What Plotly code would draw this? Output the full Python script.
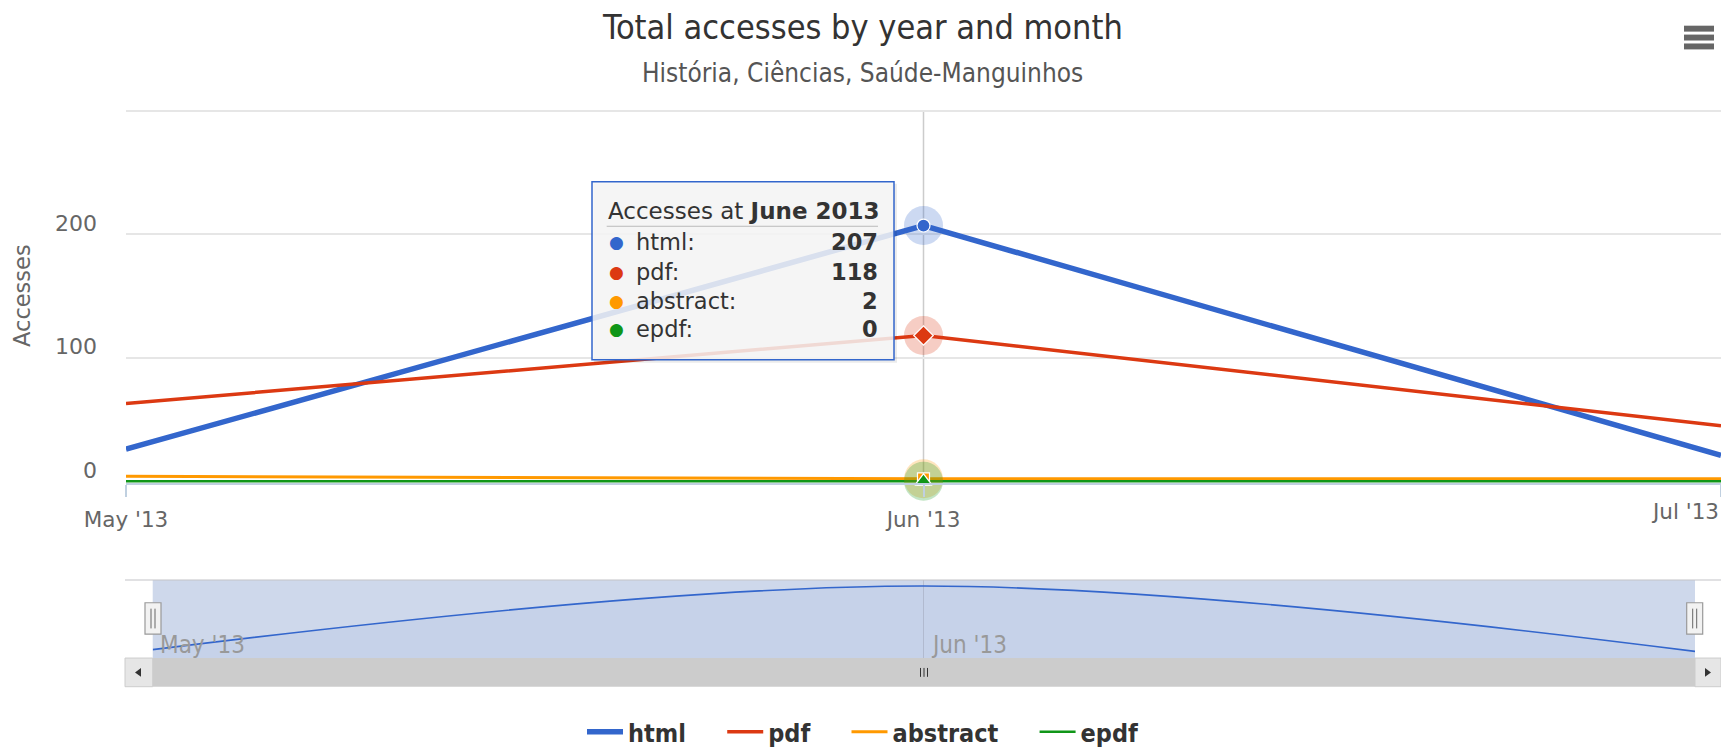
import plotly.graph_objects as go

# ---------------- data ----------------
months = ["May '13", "Jun '13", "Jul '13"]
html_vals = [26, 207, 21]
pdf_vals = [63, 118, 45]
abstract_vals = [4, 2, 2]
epdf_vals = [0, 0, 0]

series_names = ["html", "pdf", "abstract", "epdf"]
series_values = [html_vals, pdf_vals, abstract_vals, epdf_vals]
series_colors = ["#3366CC", "#DC3912", "#FF9900", "#109618"]
halo_colors = ["rgba(51,102,204,0.25)", "rgba(220,57,18,0.25)",
               "rgba(255,153,0,0.25)", "rgba(16,150,24,0.25)"]
marker_symbols = ["circle", "diamond", "square", "triangle-up"]
marker_sizes = [13, 15, 12, 15]
line_widths = [5.5, 3.5, 3, 2.5]

y_ticks = [0, 100, 200, 300]
y_tick_labels = ["0", "100", "200", ""]

title_text = "Total accesses by year and month"
subtitle_text = "História, Ciências, Saúde-Manguinhos"
y_title = "Accesses"
tooltip_prefix = "Accesses at "
tooltip_month = "June 2013"
hover_index = 1

# ---------------- layout helpers ----------------
W, H = 1721, 755


def px(x):
    return x / W


def py(y):
    return 1 - y / H


FONT = "DejaVu Sans, Verdana, sans-serif"
FONT_C = "DejaVu Sans Condensed, DejaVu Sans, sans-serif"
NB = "\u00a0"
legend_pad = [NB * 4, NB * 4, NB * 4, ""]

fig = go.Figure()

# main lines
for name, vals, col, lw, pad in zip(series_names, series_values, series_colors, line_widths, legend_pad):
    fig.add_trace(go.Scatter(x=months, y=vals, mode="lines", name=name + pad,
                             line=dict(color=col, width=lw),
                             xaxis="x", yaxis="y", hoverinfo="skip"))

# hover halos
for vals, hc in zip(series_values, halo_colors):
    fig.add_trace(go.Scatter(x=[months[hover_index]], y=[vals[hover_index]], mode="markers",
                             marker=dict(size=39, color=hc, line=dict(width=0)),
                             showlegend=False, hoverinfo="skip", cliponaxis=False,
                             xaxis="x", yaxis="y"))
# hover markers
for vals, col, sym, ms in zip(series_values, series_colors, marker_symbols, marker_sizes):
    fig.add_trace(go.Scatter(x=[months[hover_index]], y=[vals[hover_index]], mode="markers",
                             marker=dict(size=ms, color=col, symbol=sym,
                                         line=dict(color="white", width=1.2)),
                             showlegend=False, hoverinfo="skip", cliponaxis=False,
                             xaxis="x", yaxis="y"))

# navigator series
fig.add_trace(go.Scatter(x=months, y=html_vals, mode="lines",
                         line=dict(color="#3366CC", width=1.6, shape="spline"),
                         fill="tozeroy", fillcolor="rgba(51,102,204,0.05)",
                         showlegend=False, hoverinfo="skip", xaxis="x2", yaxis="y2"))

shapes = []
# crosshair
shapes.append(dict(type="line", xref="x", yref="paper", x0=months[hover_index], x1=months[hover_index],
                   y0=py(489), y1=py(112), line=dict(color="#cccccc", width=1.5), layer="below"))

# navigator mask + outline
shapes.append(dict(type="rect", xref="paper", yref="paper", x0=px(152.7), x1=px(1695),
                   y0=py(666), y1=py(587), fillcolor="rgba(102,133,194,0.32)",
                   line=dict(width=0), layer="below"))
shapes.append(dict(type="line", xref="paper", yref="paper", x0=px(125), x1=px(1721),
                   y0=py(587), y1=py(587), line=dict(color="#c4c4c8", width=1.2), layer="above"))
# scrollbar
shapes.append(dict(type="rect", xref="paper", yref="paper", x0=px(152.7), x1=px(1695),
                   y0=py(695), y1=py(666), fillcolor="#cccccc", line=dict(width=0)))
for bx0, bx1 in [(125, 152.7), (1695, 1721)]:
    shapes.append(dict(type="rect", xref="paper", yref="paper", x0=px(bx0), x1=px(bx1),
                       y0=py(695), y1=py(666), fillcolor="#e6e6e6",
                       line=dict(color="#cccccc", width=1)))
shapes.append(dict(type="path", xref="paper", yref="paper",
                   path=f"M {px(141)},{py(676)} L {px(135)},{py(680.5)} L {px(141)},{py(685)} Z",
                   fillcolor="#333333", line=dict(width=0)))
shapes.append(dict(type="path", xref="paper", yref="paper",
                   path=f"M {px(1705)},{py(676)} L {px(1711)},{py(680.5)} L {px(1705)},{py(685)} Z",
                   fillcolor="#333333", line=dict(width=0)))
for gx in (920.5, 924, 927.5):
    shapes.append(dict(type="line", xref="paper", yref="paper", x0=px(gx), x1=px(gx),
                       y0=py(676), y1=py(685), line=dict(color="#333333", width=1)))
# navigator handles
for hx0 in (145, 1686.7):
    shapes.append(dict(type="rect", xref="paper", yref="paper", x0=px(hx0), x1=px(hx0 + 16),
                       y0=py(641.7), y1=py(610), fillcolor="#f2f2f2",
                       line=dict(color="#999999", width=1.2)))
    for lx in (hx0 + 6, hx0 + 10):
        shapes.append(dict(type="line", xref="paper", yref="paper", x0=px(lx), x1=px(lx),
                           y0=py(616), y1=py(636), line=dict(color="#666666", width=1)))

# tooltip
shapes.append(dict(type="rect", xref="paper", yref="paper", x0=px(594), x1=px(897),
                   y0=py(367), y1=py(186), fillcolor="rgba(0,0,0,0.08)",
                   line=dict(width=0), layer="above"))
shapes.append(dict(type="rect", xref="paper", yref="paper", x0=px(592), x1=px(894),
                   y0=py(364), y1=py(184), fillcolor="rgba(247,247,247,0.85)",
                   line=dict(color="#3366CC", width=1.5), layer="above"))
shapes.append(dict(type="line", xref="paper", yref="paper", x0=px(606.7), x1=px(878),
                   y0=py(229), y1=py(229), line=dict(color="#bbbbbb", width=1), layer="above"))

# export menu icon
for by0, by1 in [(26, 32), (35, 41), (44, 50)]:
    shapes.append(dict(type="rect", xref="paper", yref="paper", x0=px(1684), x1=px(1714),
                       y0=py(by1), y1=py(by0), fillcolor="#666666", line=dict(width=0)))

annotations = []
annotations.append(dict(text=title_text, xref="paper", yref="paper", x=px(862), y=py(27),
                        xanchor="center", yanchor="middle", showarrow=False,
                        font=dict(family=FONT_C, size=34, color="#333333")))
annotations.append(dict(text=subtitle_text, xref="paper", yref="paper", x=px(862), y=py(73.5),
                        xanchor="center", yanchor="middle", showarrow=False,
                        font=dict(family=FONT_C, size=26, color="#555555")))
# last x label kept inside the chart edge (as the reference does)
annotations.append(dict(text=months[2], xref="paper", yref="paper", x=1.0, y=py(518),
                        xanchor="right", yanchor="middle", showarrow=False,
                        font=dict(family=FONT, size=21.5, color="#666666")))
# navigator axis labels (left-aligned next to their grid line, like the reference)
for m in months[:2]:
    annotations.append(dict(text=m, xref="x2", yref="paper", x=m, y=py(652.5), xshift=5,
                            xanchor="left", yanchor="middle", showarrow=False,
                            font=dict(family=FONT_C, size=24, color="#999999")))

annotations.append(dict(text=f"{tooltip_prefix}<b>{tooltip_month}</b>", xref="paper", yref="paper",
                        x=px(606), y=py(214), xanchor="left", yanchor="middle", showarrow=False,
                        font=dict(family=FONT, size=23, color="#333333")))
row_ys = [245, 275, 304.5, 333]
for name, vals, col, ry in zip(series_names, series_values, series_colors, row_ys):
    annotations.append(dict(text="●", xref="paper", yref="paper", x=px(616), y=py(ry),
                            xanchor="center", yanchor="middle", showarrow=False,
                            font=dict(family=FONT, size=17, color=col)))
    annotations.append(dict(text=f"{name}:", xref="paper", yref="paper", x=px(634), y=py(ry),
                            xanchor="left", yanchor="middle", showarrow=False,
                            font=dict(family=FONT, size=22.5, color="#333333")))
    annotations.append(dict(text=f"<b>{vals[hover_index]}</b>", xref="paper", yref="paper",
                            x=px(880), y=py(ry), xanchor="right", yanchor="middle", showarrow=False,
                            font=dict(family=FONT, size=22.5, color="#333333")))

fig.update_layout(
    width=W, height=H, autosize=False,
    margin=dict(l=0, r=0, t=0, b=0, pad=0),
    paper_bgcolor="white", plot_bgcolor="rgba(0,0,0,0)",
    hovermode=False,
    shapes=shapes, annotations=annotations,
    xaxis=dict(domain=[px(126), 1.0], anchor="y", type="category", range=[0, 2],
               tickvals=months, ticktext=months[:2] + [""],
               showgrid=False, zeroline=False, showline=True, linecolor="#C0D0E0", linewidth=1.5,
               ticks="outside", ticklen=12, tickcolor="#C0D0E0", tickwidth=1.5,
               ticklabelstandoff=4,
               tickfont=dict(family=FONT, size=21.5, color="#666666"), automargin=False,
               fixedrange=True),
    yaxis=dict(domain=[py(489), py(109.5)], anchor="x", range=[-1.5, 302],
               tickvals=y_ticks, ticktext=y_tick_labels,
               showgrid=True, gridcolor="#e6e6e6", gridwidth=1.5, zeroline=False, showline=False,
               ticks="", ticklabelstandoff=28, ticklabelshift=-11,
               tickfont=dict(family=FONT, size=22, color="#666666"),
               title=dict(text=y_title, font=dict(family=FONT, size=22.5, color="#666666"), standoff=18),
               automargin=False, fixedrange=True),
    xaxis2=dict(domain=[px(152.7), px(1695)], anchor="y2", type="category", range=[0, 2],
                showgrid=True, gridcolor="#b8bfd0", gridwidth=1, zeroline=False, showline=False,
                ticks="", showticklabels=False, automargin=False, fixedrange=True),
    yaxis2=dict(domain=[py(666), py(587)], anchor="x2", range=[2, 224], visible=False,
                showgrid=False, zeroline=False, fixedrange=True),
    legend=dict(orientation="h", x=px(863), y=py(741), xanchor="center", yanchor="middle",
                itemwidth=36,
                font=dict(family=FONT_C, size=25, color="#333333", weight="bold"),
                bgcolor="rgba(0,0,0,0)"),
)

fig.write_html("out.html", include_plotlyjs=True, full_html=True,
               config={"displayModeBar": False},
               post_script="document.body.style.margin='0';document.documentElement.style.overflow='hidden';")
